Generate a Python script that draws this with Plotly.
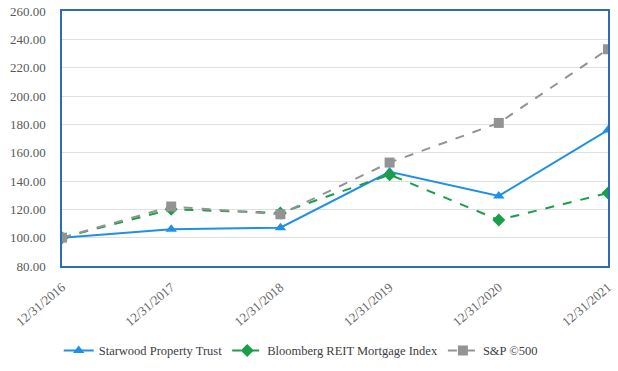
import plotly.graph_objects as go

dates = ["12/31/2016", "12/31/2017", "12/31/2018", "12/31/2019", "12/31/2020", "12/31/2021"]
starwood = [100.0, 106.0, 107.0, 146.5, 129.5, 176.0]
bloomberg = [100.0, 120.0, 117.5, 144.5, 112.5, 131.5]
sp500 = [100.0, 122.0, 116.5, 153.0, 181.0, 233.0]
y_ticks = [80, 100, 120, 140, 160, 180, 200, 220, 240, 260]

font_family = "Liberation Serif"
fig = go.Figure()
fig.add_trace(go.Scatter(x=dates, y=starwood, name="Starwood Property Trust", mode="lines+markers",
                         line=dict(color="#1E90E8", width=2),
                         marker=dict(symbol="triangle-up", size=10, color="#1E90E8")))
fig.add_trace(go.Scatter(x=dates, y=bloomberg, name="Bloomberg REIT Mortgage Index", mode="lines+markers",
                         line=dict(color="#1A9E4A", width=2, dash="dash"),
                         marker=dict(symbol="diamond", size=10, color="#1A9E4A")))
fig.add_trace(go.Scatter(x=dates, y=sp500, name="S&P ©500", mode="lines+markers",
                         line=dict(color="#939393", width=2, dash="dash"),
                         marker=dict(symbol="square", size=10, color="#939393")))

fig.update_layout(
    width=618, height=371,
    margin=dict(l=62, r=10, t=11, b=105, autoexpand=False),
    paper_bgcolor="white", plot_bgcolor="white",
    font=dict(family=font_family, size=13, color="#595959"),
    showlegend=True,
    legend=dict(orientation="h", xref="container", x=0.095, xanchor="left",
                yref="container", y=0.054, yanchor="middle",
                font=dict(family=font_family, size=12.5, color="#404040"),
                itemwidth=30, tracegroupgap=0),
    xaxis=dict(type="category", range=[0, 5], tickangle=-40, showgrid=False,
               showline=True, linecolor="#2E6DB4", linewidth=1.5, mirror=True,
               ticks="", automargin=False, ticklabelstandoff=7,
               tickfont=dict(size=13, color="#666666")),
    yaxis=dict(range=[80, 260], tickvals=y_ticks, ticktext=[f"{v:.2f}" for v in y_ticks],
               showgrid=True, gridcolor="#E0E0E0", gridwidth=1,
               showline=True, linecolor="#2E6DB4", linewidth=1.5, mirror=True,
               zeroline=False, ticks="", automargin=False, ticklabelstandoff=12,
               tickfont=dict(size=13, color="#595959")),
)
fig.write_html("out.html", config={"displayModeBar": False},
               post_script="document.body.style.margin='0';")
